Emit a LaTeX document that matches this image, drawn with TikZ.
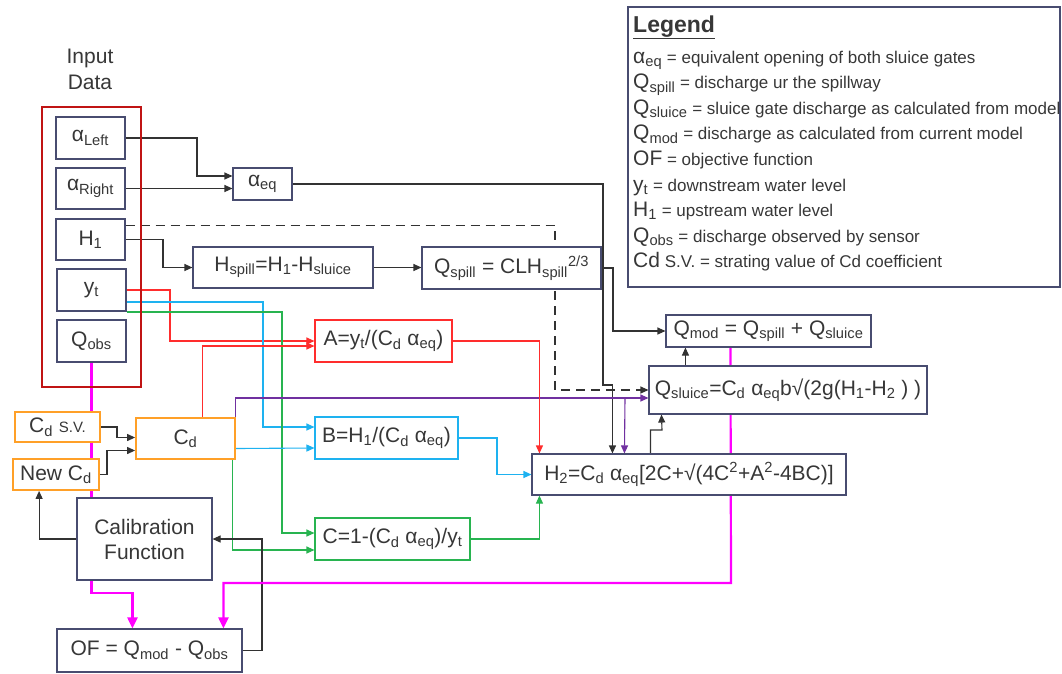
\documentclass[tikz,border=0pt]{standalone}
\usepackage{fontspec}
\setmainfont{Liberation Sans}
\usetikzlibrary{calc,arrows.meta}
\tikzset{>={Triangle[length=8pt,width=7pt]}}
\newcommand*{\sub}[1]{\textsubscript{#1}}
\newcommand*{\sy}[1]{{\fontsize{21}{24}\selectfont #1}}

\definecolor{boxc}{RGB}{72,76,112}
\definecolor{txtc}{RGB}{55,55,55}
\definecolor{inred}{RGB}{192,20,20}
\definecolor{lred}{RGB}{255,45,45}
\definecolor{lblue}{RGB}{30,178,240}
\definecolor{lgreen}{RGB}{40,180,80}
\definecolor{lorange}{RGB}{255,160,40}
\definecolor{lpurple}{RGB}{112,48,160}
\definecolor{lmag}{RGB}{255,0,255}
\definecolor{lgray}{RGB}{50,50,50}

\pgfdeclarelayer{bg}
\pgfsetlayers{bg,main}

\tikzset{
  box/.style={draw=boxc, fill=white, line width=1.1pt, inner sep=0pt,
    text=txtc, font=\fontsize{21}{25}\selectfont},
  obox/.style={box, draw=lorange, line width=1.8pt},
  rbox/.style={box, draw=lred},
  bbox/.style={box, draw=lblue},
  gbox/.style={box, draw=lgreen},
  leg/.style={anchor=base west, inner sep=0pt, text=txtc,
    font=\fontsize{17}{20}\selectfont},
  link/.style={->, line width=1.1pt, lgray},
  mlink/.style={-{Triangle[length=11pt,width=10pt]}, line width=2.2pt, lmag},
}

\begin{document}
\begin{tikzpicture}[x=1pt,y=-1pt]
\useasboundingbox (0,0) rectangle (1062,673);

% Input data
\node[text=txtc, font=\fontsize{21}{26}\selectfont, align=center]
  (intitle) at (90,69) {Input\\Data};
\node[draw=inred, line width=2.4pt, minimum width=99pt,
  minimum height=280pt] (inbox) at (91.5,247) {};
\node[box, minimum width=69pt, minimum height=42pt] (aL) at (90.5,138)
  {α\sub{Left}};
\node[box, minimum width=69pt, minimum height=41pt] (aR) at (90.5,188.5)
  {α\sub{Right}};
\node[box, minimum width=69pt, minimum height=41pt] (H1) at (90.5,239.5)
  {H\sub{1}};
\node[box, minimum width=69pt, minimum height=42pt] (yt) at (91.5,290)
  {y\sub{t}};
\node[box, minimum width=69pt, minimum height=42pt] (Qobs) at (91.5,341)
  {Q\sub{obs}};

% Model
\node[box, minimum width=59pt, minimum height=32pt] (aeq) at (262.5,184)
  {α\sub{eq}};
\node[box, minimum width=180pt, minimum height=41pt] (Hsp) at (283,267.5)
  {H\sub{spill}=H\sub{1}-H\sub{sluice}};
\node[box, minimum width=179pt, minimum height=42pt] (Qsp) at (511.5,268)
  {Q\sub{spill} = CLH\sub{spill}\textsuperscript{2/3}};
\node[rbox, minimum width=137pt, minimum height=42pt] (A) at (383.5,341)
  {A=y\sub{t}/(C\sub{d} α\sub{eq})};
\node[bbox, minimum width=143pt, minimum height=42pt] (B) at (386.5,438)
  {B=H\sub{1}/(C\sub{d} α\sub{eq})};
\node[gbox, minimum width=155pt, minimum height=42pt] (C) at (392.5,539)
  {C=1-(C\sub{d} α\sub{eq})/y\sub{t}};
\node[box, minimum width=205pt, minimum height=32pt] (Qmod) at (768.5,331)
  {Q\sub{mod} = Q\sub{spill} + Q\sub{sluice}};
\node[box, minimum width=278pt, minimum height=48pt] (Qsl) at (788,390)
  {Q\sub{sluice}=C\sub{d} α\sub{eq}b√(2g(H\sub{1}-H\sub{2} ) )};
\node[box, minimum width=314pt, minimum height=41pt] (H2) at (689,474.5)
  {H\sub{2}=C\sub{d} α\sub{eq}[2C+√(4C\textsuperscript{2}+A\textsuperscript{2}-4BC)]};

% Calibration
\node[obox, minimum width=99pt, minimum height=41pt] (Cd) at (185.5,438.5)
  {C\sub{d}};
\node[obox, minimum width=85pt, minimum height=30pt] (CdSV) at (57.5,427)
  {C\sub{d} {\fontsize{15}{18}\selectfont S.V.}};
\node[obox, minimum width=86pt, minimum height=31pt] (NewCd) at (56,474.5)
  {New C\sub{d}};
\node[box, align=center, minimum width=135pt, minimum height=82pt]
  (Cal) at (144.5,539) {Calibration\\Function};
\node[box, minimum width=185pt, minimum height=43pt] (OF) at (149.5,650.5)
  {OF = Q\sub{mod} - Q\sub{obs}};

% Legend
\node[draw=boxc, line width=1.3pt, minimum width=432pt,
  minimum height=280pt] (legend) at (844,147) {};
\node[leg, font=\fontsize{23}{26}\selectfont\bfseries] (legt) at (633,32)
  {\underline{Legend}};
\foreach \sym/\txt [count=\i] in {
  α\sub{eq}/= equivalent opening of both sluice gates,
  Q\sub{spill}/= discharge ur the spillway,
  Q\sub{sluice}/= sluice gate discharge as calculated from model,
  Q\sub{mod}/= discharge as calculated from current model,
  OF/= objective function,
  y\sub{t}/= downstream water level,
  H\sub{1}/= upstream water level,
  Q\sub{obs}/= discharge observed by sensor,
  Cd/S.V. = strating value of Cd coefficient}
  \node[leg] (leg\i) at (633,{37.4+25.6*\i}) {\sy{\sym} \txt};

\begin{pgfonlayer}{bg}
\draw[link] (aL.east) -| (197,176) -- ($(aeq.west)+(0,-8)$);
\draw[link] (aR.east) -- (aR.east -| aeq.west);
\draw[link] (aeq.east) -| (603,385) -| ($(H2.north west)+(81,0)$);
\draw[link] (H1.east) -- (163,239.5) |- (Hsp.west);
\draw[link, dashed, dash pattern=on 9pt off 6pt]
  ($(H1.north east)+(0,7)$) -| (555,390) -- (Qsl.west);
\draw[link] (Hsp.east) -- (Hsp.east -| Qsp.west);
\draw[link] (Qsp.east) -| (613,331) -- (Qmod.west);
\draw[link] ($(Qsl.north west)+(37,0)$) -- ($(Qmod.south west)+(20,0)$);
\draw[link] ($(H2.north west)+(119,0)$) |- (662,430)
  -- ($(Qsl.south west)+(13,0)$);

% inputs to A, B, C
\draw[link, lred] (yt.east) -- (170,290) |- (A.west);
\draw[link, lblue] ($(yt.east)+(0,12)$) -| (263,427) -- ($(B.west)+(0,-11)$);
\draw[link, lgreen] ($(yt.east)+(0,22)$) -| (282,533) -- ($(C.west)+(0,-6)$);
\draw[link, lred] ($(Cd.north west)+(67,0)$) |- ($(A.west)+(0,5)$);
\draw[link, lpurple] (Cd.east) |- ($(Qsl.west)+(0,8)$);
\coordinate (pj) at (625,398);
\draw[link, lpurple] (pj) -- ($(H2.north west)+(93,0)$);
\draw[link, lblue] ($(Cd.east)+(0,10)$) -- ($(B.west)+(0,10)$);
\draw[link, lgreen] ($(Cd.south east)+(-3,0)$) |- ($(C.west)+(0,11)$);

% A, B, C to H2
\draw[link, lred] (A.east) -| ($(H2.north west)+(8,0)$);
\draw[link, lblue] (B.east) -- (497,438) |- (H2.west);
\draw[link, lgreen] (C.east) -| ($(H2.south west)+(8,0)$);

% calibration loop
\draw[link] (CdSV.east) -- (117,427) |- ($(Cd.west)+(0,-1)$);
\draw[link] (NewCd.east) -- (107,474.5) |- ($(Cd.west)+(0,12)$);
\draw[link] (Cal.west) -| ($(NewCd.south west)+(27,0)$);
\draw[link] (OF.east) -- (262,650.5) |- (Cal.east);
\draw[mlink] (Qobs.south) -- (91.5,593) -| ($(OF.north west)+(76,0)$);
\draw[mlink] ($(Qmod.south west)+(65,0)$) -- (731,583)
  -| ($(OF.north west)+(167,0)$);
\end{pgfonlayer}
\end{tikzpicture}
\end{document}
